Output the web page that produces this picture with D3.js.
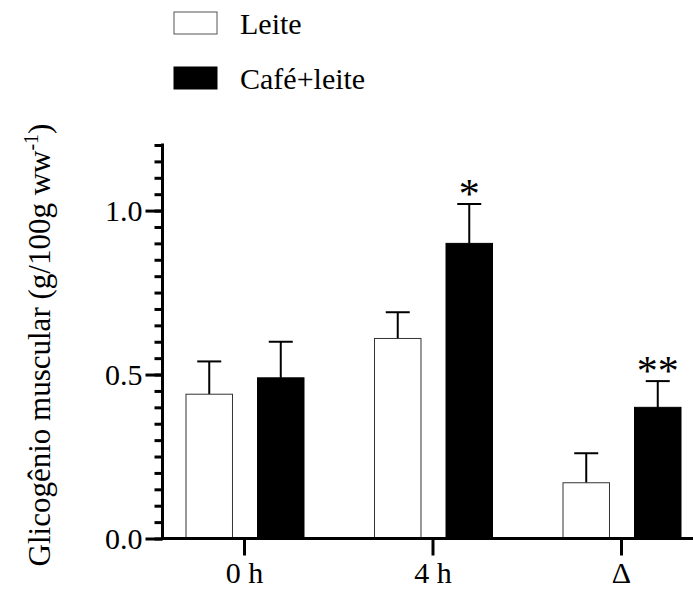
<!DOCTYPE html>
<html>
<head>
<meta charset="utf-8">
<script src="https://cdn.jsdelivr.net/npm/d3@7"></script>
<style>
  body { margin: 0; background: #fff; }
  svg  { display: block; }
  svg text { font-family: "Liberation Serif", "Times New Roman", serif; fill: #000; }
</style>
</head>
<body>
<svg id="chart" width="693" height="590"></svg>
<script>
"use strict";

// data (mean and upper SEM)
const categories = [ '0 h', '4 h', 'Δ' ];
const seriesNames = [ 'Leite', 'Café+leite' ];
const leiteMean  = [ 0.44, 0.61, 0.17 ];
const leiteErr   = [ 0.10, 0.08, 0.09 ];
const cafeMean   = [ 0.49, 0.90, 0.40 ];
const cafeErr    = [ 0.11, 0.12, 0.08 ];
const cafeMarks  = [ '', '*', '**' ];
const majorTicks = [ 0, 0.5, 1.0 ];

const serif = '"Liberation Serif", "Times New Roman", serif';
const svg = d3.select( '#chart' );

// scales
const y = d3.scaleLinear()
            .domain( [ 0, 1.2 ] )
            .range( [ 538.5, 145 ] );

const x = d3.scalePoint()
            .domain( categories )
            .range( [ 244, 621 ] );

const sub = d3.scaleBand()
              .domain( seriesNames )
              .range( [ -58, 60 ] )
              .paddingInner( 0.35 );

const fills = { 'Leite': '#fff', 'Café+leite': '#000' };

// rows for the bars
const rows = [];
categories.forEach( (c,i) => {
  rows.push( { cat: c, s: 'Leite',      v: leiteMean[i], e: leiteErr[i], mark: '' } );
  rows.push( { cat: c, s: 'Café+leite', v: cafeMean[i],  e: cafeErr[i],  mark: cafeMarks[i] } );
});

// error bars (drawn first, so the bars sit on top)
const err = svg.append( 'g' )
                 .attr( 'class', 'errors' )
               .selectAll( 'g' )
                 .data( rows )
               .enter().append( 'g' )
                 .attr( 'transform', d => `translate(${x(d.cat) + sub(d.s) + sub.bandwidth() / 2},0)` );
err.append( 'line' )
     .attr( 'y1', d => y( d.v ) )
     .attr( 'y2', d => y( d.v + d.e ) )
     .attr( 'stroke', '#000' )
     .attr( 'stroke-width', 2 );
err.append( 'line' )
     .attr( 'x1', -12 )
     .attr( 'x2', 12 )
     .attr( 'y1', d => y( d.v + d.e ) )
     .attr( 'y2', d => y( d.v + d.e ) )
     .attr( 'stroke', '#000' )
     .attr( 'stroke-width', 2 );

// significance marks
err.filter( d => d.mark )
   .append( 'text' )
     .attr( 'y', d => y( d.v + d.e ) + 4 )
     .attr( 'text-anchor', 'middle' )
     .style( 'font-size', '42px' )
     .text( d => d.mark );

// bars
svg.append( 'g' )
     .attr( 'class', 'bars' )
   .selectAll( 'rect' )
     .data( rows )
   .enter().append( 'rect' )
     .attr( 'x', d => x( d.cat ) + sub( d.s ) )
     .attr( 'width', sub.bandwidth() )
     .attr( 'y', d => y( d.v ) )
     .attr( 'height', d => y( 0 ) - y( d.v ) )
     .attr( 'fill', d => fills[ d.s ] )
     .attr( 'stroke', d => d.s === 'Leite' ? '#333' : '#000' )
     .attr( 'stroke-width', 1 );

// y axis: minor ticks every 0.05, labelled majors every 0.5
const yMinor = svg.append( 'g' )
                    .attr( 'transform', 'translate(162.5,0)' )
                    .call( d3.axisLeft( y ).tickValues( d3.range( 0, 1.2001, 0.05 ) ).tickSize( 8 ).tickFormat( '' ) );
yMinor.select( '.domain' ).remove();

const yAxis = svg.append( 'g' )
                   .attr( 'transform', 'translate(162.5,0)' )
                   .call( d3.axisLeft( y ).tickValues( majorTicks ).tickSize( 17 ).tickSizeOuter( 0 ).tickPadding( 3 ).tickFormat( d3.format( '.1f' ) ) );
yAxis.select( '.domain' )
       .attr( 'd', `M0,${y(1.2) - 1.5}V${y(0)}` );

// x axis: the base line runs out past the right edge
svg.append( 'path' )
     .attr( 'd', `M161,${y(0)}H700` )
     .attr( 'stroke', '#000' )
     .attr( 'stroke-width', 3 );

const xAxis = svg.append( 'g' )
                   .attr( 'transform', `translate(0,${y(0)})` )
                   .call( d3.axisBottom( x ).tickSize( 17 ).tickPadding( 6 ) );
xAxis.select( '.domain' ).remove();

// common axis styling
svg.selectAll( '.tick line, .domain' )
     .attr( 'stroke', '#000' )
     .attr( 'stroke-width', 3 );
[ yMinor, yAxis, xAxis ].forEach( g => g.attr( 'font-family', serif ).attr( 'font-size', 30 ) );
svg.selectAll( '.tick text' )
     .style( 'font-family', serif )
     .style( 'font-size', '30px' )
     .attr( 'fill', '#000' );

// y title
const title = svg.append( 'text' )
                   .attr( 'transform', 'translate(50,345) rotate(-90)' )
                   .attr( 'text-anchor', 'middle' )
                   .style( 'font-family', serif )
                   .style( 'font-size', '31px' );
title.append( 'tspan' ).text( 'Glicogênio muscular (g/100g ww' );
title.append( 'tspan' ).attr( 'dy', -12 ).style( 'font-size', '20px' ).text( '-1' );
title.append( 'tspan' ).attr( 'dy', 12 ).text( ')' );

// legend
const legend = svg.append( 'g' )
                    .attr( 'class', 'legend' )
                  .selectAll( 'g' )
                    .data( seriesNames )
                  .enter().append( 'g' )
                    .attr( 'transform', (d,i) => `translate(174,${12 + i * 55})` );
legend.append( 'rect' )
        .attr( 'width', 43 )
        .attr( 'height', 22 )
        .attr( 'fill', d => fills[ d ] )
        .attr( 'stroke', d => d === 'Leite' ? '#555' : '#000' )
        .attr( 'stroke-width', 1 );
legend.append( 'text' )
        .attr( 'x', 66 )
        .attr( 'y', 21.5 )
        .style( 'font-family', serif )
        .style( 'font-size', '30px' )
        .text( d => d );
</script>
</body>
</html>
